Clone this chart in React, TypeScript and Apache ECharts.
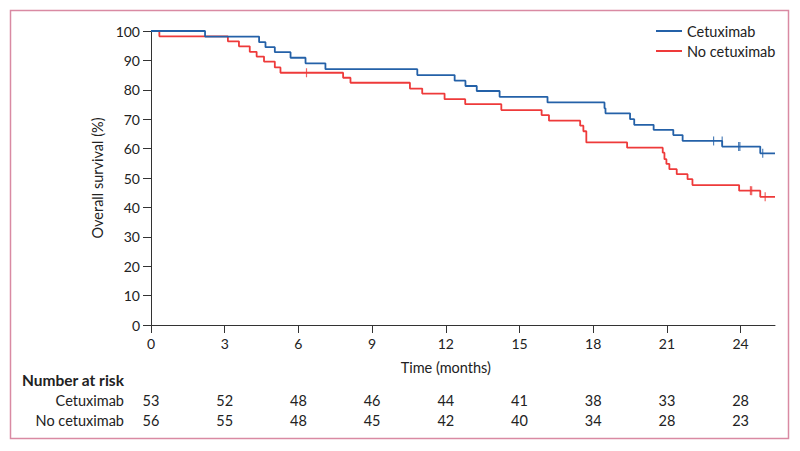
import React, { useEffect, useRef } from "react";
import * as echarts from "echarts";

const timesCetux = [0, 2.2, 4.4, 4.66, 5.04, 5.68, 6.29, 7.1, 10.84, 12.36, 12.8, 13.26, 14.19, 16.14, 18.46, 18.5, 19.5, 19.67, 20.46, 21.26, 21.64, 23.25, 24.8, 25.4];
const survCetux = [100, 98.1, 96.2, 94.5, 92.8, 90.9, 89.0, 87.0, 85.0, 83.1, 81.3, 79.6, 77.6, 75.7, 73.7, 72.0, 70.0, 68.1, 66.4, 64.6, 62.6, 60.7, 58.4, 58.4];

const timesNo = [0, 0.34, 3.13, 3.58, 4.02, 4.3, 4.6, 5.04, 5.27, 7.82, 8.12, 10.54, 11.04, 11.95, 12.79, 14.26, 15.9, 16.2, 17.47, 17.6, 17.72, 19.38, 20.83, 20.9, 20.98, 21.1, 21.4, 21.84, 22.04, 23.94, 24.8, 25.4];
const survNo = [100, 98.2, 96.5, 94.8, 92.9, 91.3, 89.6, 87.6, 85.8, 84.1, 82.4, 80.4, 78.7, 76.8, 75.1, 73.1, 71.4, 69.5, 67.8, 65.9, 62.1, 60.3, 58.6, 56.4, 54.8, 53.0, 51.3, 49.6, 47.6, 45.7, 43.6, 43.6];

const censorCetuxT = [22.9, 23.25, 23.92, 23.97, 24.9];
const censorCetuxS = [62.6, 62.6, 60.7, 60.7, 58.4];
const censorNoT = [6.33, 24.4, 24.45, 25.0];
const censorNoS = [85.8, 45.7, 45.7, 43.6];

const xTicks = [0, 3, 6, 9, 12, 15, 18, 21, 24];
const yTicks = [0, 10, 20, 30, 40, 50, 60, 70, 80, 90, 100];
const riskCetux = [53, 52, 48, 46, 44, 41, 38, 33, 28];
const riskNo = [56, 55, 48, 45, 42, 40, 34, 28, 23];

const BLUE = "#2461a8";
const RED = "#ee3a3a";
const TXT = "#222";
const AX = "#333";
const FONT = "Lato";

export default function App() {
  const ref = useRef<HTMLDivElement>(null);
  useEffect(() => {
    if (!ref.current) return;
    const chart = echarts.init(ref.current, null, { renderer: "svg" });
    const pair = (t: number[], s: number[]) => t.map((v, i) => [v, s[i]]);
    chart.setOption({
      animation: false,
      textStyle: { fontFamily: FONT },
      grid: { left: 151, top: 31, width: 624, height: 294 },
      legend: {
        data: ["Cetuximab", "No cetuximab"],
        orient: "vertical",
        left: 651,
        top: 18,
        icon: "rect",
        itemWidth: 26,
        itemHeight: 2,
        itemGap: 4,
        textStyle: { fontSize: 14.5, color: TXT, fontFamily: FONT, lineHeight: 16 },
      },
      xAxis: {
        type: "value",
        min: 0,
        max: 25.4,
        interval: 3,
        axisLine: { show: true, lineStyle: { color: AX, width: 1 } },
        axisTick: { show: true, length: 8, lineStyle: { color: AX }, customValues: xTicks },
        axisLabel: { fontSize: 14, color: TXT, margin: 11, fontFamily: FONT, customValues: xTicks },
        splitLine: { show: false },
      },
      yAxis: {
        type: "value",
        min: 0,
        max: 100,
        interval: 10,
        axisLine: { show: true, lineStyle: { color: AX, width: 1 } },
        axisTick: { show: true, length: 8, lineStyle: { color: AX }, customValues: yTicks },
        axisLabel: { fontSize: 14, color: TXT, margin: 11, fontFamily: FONT, customValues: yTicks },
        splitLine: { show: false },
      },
      series: [
        {
          name: "No cetuximab",
          type: "line",
          step: "end",
          data: pair(timesNo, survNo),
          showSymbol: false,
          symbol: "none",
          lineStyle: { color: RED, width: 1.8 },
          itemStyle: { color: RED },
        },
        {
          name: "Cetuximab",
          type: "line",
          step: "end",
          data: pair(timesCetux, survCetux),
          showSymbol: false,
          symbol: "none",
          lineStyle: { color: BLUE, width: 1.8 },
          itemStyle: { color: BLUE },
        },
        {
          name: "No cetuximab censored",
          type: "scatter",
          data: pair(censorNoT, censorNoS),
          symbol: "rect",
          symbolSize: [1.2, 9],
          itemStyle: { color: RED },
        },
        {
          name: "Cetuximab censored",
          type: "scatter",
          data: pair(censorCetuxT, censorCetuxS),
          symbol: "rect",
          symbolSize: [1.2, 9],
          itemStyle: { color: BLUE },
        },
      ],
    });

    const px = (t: number) => chart.convertToPixel({ xAxisIndex: 0 }, t) as number;
    const py = (v: number) => chart.convertToPixel({ yAxisIndex: 0 }, v) as number;
    const txt = (x: number, y: number, text: string, align: string, extra: any = {}) => ({
      type: "text",
      x,
      y,
      style: {
        text,
        fill: TXT,
        fontSize: 14.5,
        fontFamily: FONT,
        textAlign: align,
        textVerticalAlign: "middle",
        ...extra,
      },
    });
    const graphics: any[] = [
      {
        type: "rect",
        shape: { x: 10.5, y: 10.5, width: 778, height: 428 },
        style: { fill: "none", stroke: "#d98aa3", lineWidth: 1.5 },
        silent: true,
      },
      {
        type: "text",
        x: 97,
        y: py(50),
        rotation: Math.PI / 2,
        style: {
          text: "Overall survival (%)",
          fill: TXT,
          fontSize: 14.5,
          fontFamily: FONT,
          textAlign: "center",
          textVerticalAlign: "middle",
        },
      },
      txt(px(12), 367, "Time (months)", "center"),
      txt(22, 380, "Number at risk", "left", { fontWeight: "bold", fontSize: 15.5 }),
      txt(124, 400, "Cetuximab", "right"),
      txt(124, 420, "No cetuximab", "right"),
    ];
    xTicks.forEach((t, i) => {
      graphics.push(txt(px(t), 400, String(riskCetux[i]), "center"));
      graphics.push(txt(px(t), 420, String(riskNo[i]), "center"));
    });
    chart.setOption({ graphic: graphics });
    return () => chart.dispose();
  }, []);
  return (
    <div
      ref={ref}
      style={{ position: "fixed", left: 0, top: 0, width: 800, height: 451, background: "#fff" }}
    />
  );
}
